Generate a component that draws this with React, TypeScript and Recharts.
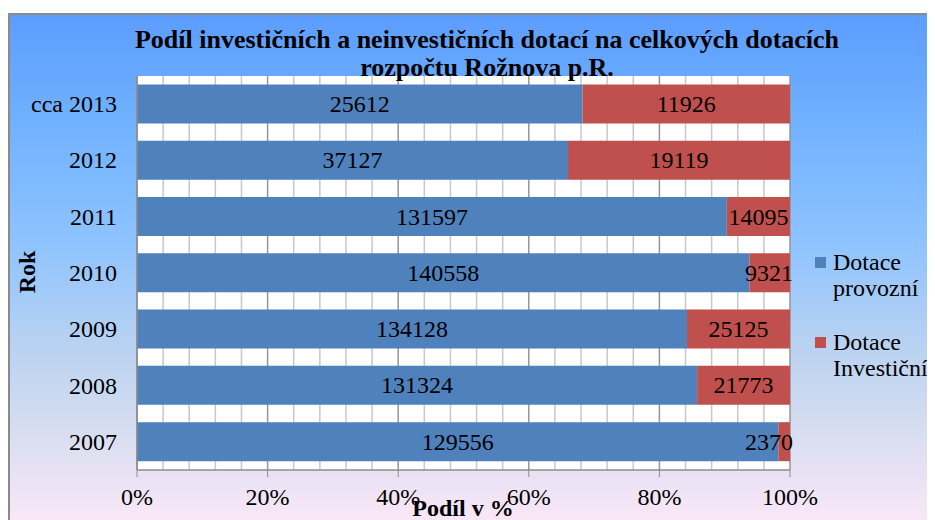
import React from 'react';
import { BarChart, Bar, XAxis, YAxis, CartesianGrid, Legend, LabelList } from 'recharts';

const years = ['cca 2013', '2012', '2011', '2010', '2009', '2008', '2007'];
const provozni = [25612, 37127, 131597, 140558, 134128, 131324, 129556];
const investicni = [11926, 19119, 14095, 9321, 25125, 21773, 2370];
const xTicks = [0, 0.04, 0.08, 0.12, 0.16, 0.2, 0.24, 0.28, 0.32, 0.36, 0.4, 0.44, 0.48, 0.52, 0.56, 0.6, 0.64, 0.68, 0.72, 0.76, 0.8, 0.84, 0.88, 0.92, 0.96, 1];
const seriesNames = ['Dotace provozní', 'Dotace Investiční'];
const titleLines = ['Podíl investičních a neinvestičních dotací na celkových dotacích', 'rozpočtu Rožnova p.R.'];

const data = years.map((y, i) => ({ year: y, provozni: provozni[i], investicni: investicni[i] }));

const FONT = '"Liberation Serif", "Times New Roman", serif';
const BLUE = '#4F81BD';
const RED = '#C0504D';

const isMajor = (v: number) => Math.abs(Math.round(v * 100) % 20) === 0;

const XTick = (props: any) => {
  const { x, y, payload } = props;
  const v = payload.value;
  if (!isMajor(v)) return <g />;
  return (
    <g>
      <line x1={x} y1={y} x2={x} y2={y + 7} stroke="#8c8c8c" strokeWidth={1} />
      <text x={x} y={y + 27} textAnchor="middle" dominantBaseline="central" fontFamily={FONT} fontSize={24} fill="#000">
        {Math.round(v * 100) + '%'}
      </text>
    </g>
  );
};

const YTick = (props: any) => {
  const { x, y, payload } = props;
  return (
    <text x={x - 20} y={y} textAnchor="end" dominantBaseline="central" fontFamily={FONT} fontSize={24} fill="#000">
      {payload.value}
    </text>
  );
};

const renderLabel = (props: any) => {
  const { x, y, width, height, value } = props;
  const s = String(value);
  const tw = s.length * 12;
  let cx = x + width / 2;
  const maxRight = x + width + 3;
  if (cx + tw / 2 > maxRight) cx = maxRight - tw / 2;
  return (
    <text x={cx} y={y + height / 2} textAnchor="middle" dominantBaseline="central" fontFamily={FONT} fontSize={24} fill="#000">
      {s}
    </text>
  );
};

const gridLine = (props: any) => {
  const { x1, y1, x2, y2, index } = props;
  const major = index % 5 === 0;
  return <line key={'g' + index} x1={x1} y1={y1} x2={x2} y2={y2} stroke={major ? '#969696' : '#c8c8c8'} strokeWidth={1.5} />;
};

const LegendContent = (props: any) => {
  const payload = [...(props.payload || [])].sort(
    (a: any, b: any) => seriesNames.indexOf(a.value) - seriesNames.indexOf(b.value)
  );
  return (
    <div style={{ fontFamily: FONT, fontSize: 24, lineHeight: '26px', color: '#000' }}>
      {payload.map((p: any, i: number) => {
        const name: string = p.value;
        const sp = name.indexOf(' ');
        return (
          <div key={i} style={{ position: 'relative', paddingLeft: 18, marginBottom: i === 0 ? 28 : 0 }}>
            <span style={{ position: 'absolute', left: 0, top: 8, width: 11, height: 11, background: p.color }} />
            <div>{name.slice(0, sp)}</div>
            <div>{name.slice(sp + 1)}</div>
          </div>
        );
      })}
    </div>
  );
};

export default function App() {
  return (
    <div style={{ position: 'relative', width: 927, height: 512, overflow: 'hidden' }}>
      <div
        style={{
          position: 'absolute',
          left: 0,
          top: 5,
          right: 0,
          bottom: 0,
          borderTop: '2px solid #8a8a8a',
          borderLeft: '2px solid #8a8a8a',
          background: 'linear-gradient(to bottom, #5C9DFF 0%, #6FB0FF 20%, #8EC3FF 45%, #B8D2F2 65%, #D3DCF0 80%, #F9E7F7 100%)',
        }}
      />
      <div style={{ position: 'absolute', left: 0, top: 0 }}>
        <BarChart
          width={927}
          height={512}
          data={data}
          layout="vertical"
          stackOffset="expand"
          barCategoryGap="15%"
          margin={{ top: 68, right: 145, bottom: 0, left: 19 }}
        >
          <CartesianGrid horizontal={false} vertical={gridLine} fill="#ffffff" />
          <XAxis
            type="number"
            domain={[0, 1]}
            ticks={xTicks}
            interval={0}
            height={50}
            tick={<XTick />}
            tickLine={false}
            tickSize={0}
            tickMargin={0}
            axisLine={{ stroke: '#8c8c8c', strokeWidth: 1.5 }}
          />
          <YAxis
            type="category"
            dataKey="year"
            width={110}
            tick={<YTick />}
            tickLine={false}
            tickSize={0}
            tickMargin={0}
            axisLine={{ stroke: '#8c8c8c', strokeWidth: 1.5 }}
          />
          <Legend
            layout="horizontal"
            verticalAlign="middle"
            align="center"
            content={<LegendContent />}
            wrapperStyle={{ position: 'absolute', left: 807, top: 241, width: 120 }}
          />
          <Bar dataKey="provozni" name={seriesNames[0]} stackId="a" fill={BLUE} isAnimationActive={false}>
            <LabelList dataKey="provozni" content={renderLabel} />
          </Bar>
          <Bar dataKey="investicni" name={seriesNames[1]} stackId="a" fill={RED} isAnimationActive={false}>
            <LabelList dataKey="investicni" content={renderLabel} />
          </Bar>
        </BarChart>
      </div>
      <div
        style={{
          position: 'absolute',
          left: 29,
          width: 900,
          top: 18,
          textAlign: 'center',
          fontFamily: FONT,
          fontWeight: 'bold',
          fontSize: 26,
          lineHeight: '28px',
          color: '#000',
          pointerEvents: 'none',
        }}
      >
        <div>{titleLines[0]}</div>
        <div>{titleLines[1]}</div>
      </div>
      <div
        style={{
          position: 'absolute',
          left: 19 - 40,
          top: 264 - 14,
          width: 80,
          textAlign: 'center',
          transform: 'rotate(-90deg)',
          fontFamily: FONT,
          fontWeight: 'bold',
          fontSize: 24,
          lineHeight: '28px',
          color: '#000',
        }}
      >
        Rok
      </div>
      <div
        style={{
          position: 'absolute',
          left: 455 - 100,
          top: 489,
          width: 200,
          textAlign: 'center',
          fontFamily: FONT,
          fontWeight: 'bold',
          fontSize: 24,
          lineHeight: '23px',
          color: '#000',
        }}
      >
        Podíl v %
      </div>
    </div>
  );
}
